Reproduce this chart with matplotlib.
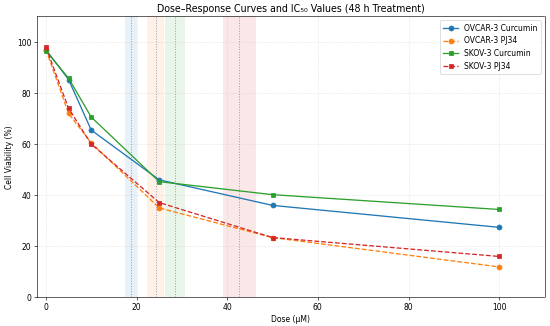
import numpy as np
import matplotlib
matplotlib.use('Agg')
import matplotlib.pyplot as plt

# 剂量 (μM)
doses = [0, 5, 10, 25, 50, 100]

# 细胞存活率 (%)
ovcar_curcumin = [97.0, 85.3, 65.5, 46.0, 36.0, 27.4]
ovcar_pj34 = [97.0, 72.0, 60.5, 35.0, 23.4, 11.9]
skov_curcumin = [96.6, 85.8, 70.6, 45.3, 40.2, 34.4]
skov_pj34 = [98.0, 74.0, 60.0, 37.1, 23.4, 16.0]

labels = ['OVCAR-3 Curcumin', 'OVCAR-3 PJ34', 'SKOV-3 Curcumin', 'SKOV-3 PJ34']

# IC50 估计值及误差范围
ic50 = [18.8, 24.2, 28.5, 42.7]
ic50_err = [1.4, 1.9, 2.2, 3.7]

colors = ['#1f77b4', '#ff7f0e', '#2ca02c', '#d62728']
markers = ['o', 'o', 's', 's']
styles = ['-', '--', '-', '--']

fig, ax = plt.subplots(figsize=(10, 5.93), dpi=55)

# IC50 区间 + 竖线
for c, v, e in zip(colors, ic50, ic50_err):
    ax.axvspan(v - e, v + e, color=c, alpha=0.1, lw=0)
    ax.axvline(v, color='#7f86b8', linestyle=':', linewidth=1.3, alpha=0.8)

series = [ovcar_curcumin, ovcar_pj34, skov_curcumin, skov_pj34]
for y, lab, c, m, ls in zip(series, labels, colors, markers, styles):
    ax.plot(doses, y, linestyle=ls, marker=m, color=c, label=lab,
            linewidth=1.7, markersize=6.5)

ax.set_xlim(-2, 110)
ax.set_ylim(0, 110)
ax.set_xlabel('Dose (μM)', fontsize=10)
ax.set_ylabel('Cell Viability (%)', fontsize=10)
ax.set_title('Dose–Response Curves and IC₅₀ Values (48 h Treatment)', fontsize=12.5)
ax.tick_params(labelsize=10)
ax.grid(True, linestyle='--', alpha=0.3)
ax.legend(loc='upper right', fontsize=10)

plt.subplots_adjust(left=0.067, right=0.99, top=0.949, bottom=0.088)
plt.savefig('out.png', dpi=55)
